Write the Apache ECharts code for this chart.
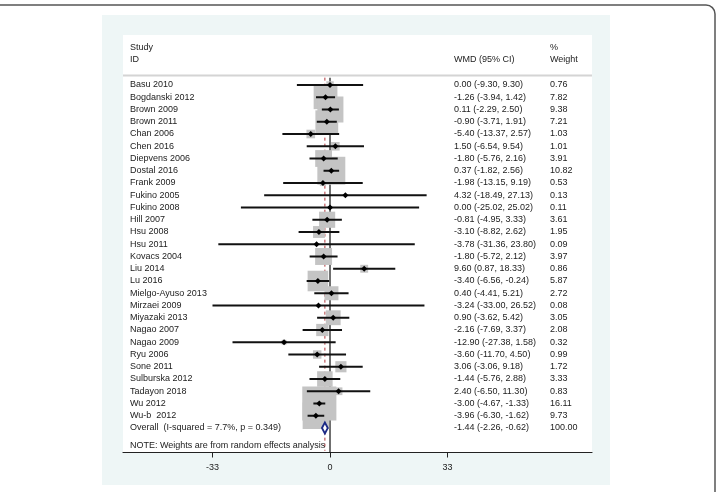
<!DOCTYPE html>
<html>
<head>
<meta charset="utf-8">
<script src="https://cdn.jsdelivr.net/npm/echarts@6/dist/echarts.min.js"></script>
<style>
  html, body { margin: 0; padding: 0; background: #fff; }
  #main { width: 717px; height: 492px; }
</style>
</head>
<body>
<div id="main"></div>
<script>
// study data (WMD with 95% CI, % weight)
var studies = ['Basu 2010', 'Bogdanski 2012', 'Brown 2009', 'Brown 2011', 'Chan 2006', 'Chen 2016',
  'Diepvens 2006', 'Dostal 2016', 'Frank 2009', 'Fukino 2005', 'Fukino 2008', 'Hill 2007', 'Hsu 2008',
  'Hsu 2011', 'Kovacs 2004', 'Liu 2014', 'Lu 2016', 'Mielgo-Ayuso 2013', 'Mirzaei 2009', 'Miyazaki 2013',
  'Nagao 2007', 'Nagao 2009', 'Ryu 2006', 'Sone 2011', 'Sulburska 2012', 'Tadayon 2018', 'Wu 2012', 'Wu-b  2012'];
var wmd = [0.00, -1.26, 0.11, -0.90, -5.40, 1.50, -1.80, 0.37, -1.98, 4.32, 0.00, -0.81, -3.10, -3.78,
  -1.80, 9.60, -3.40, 0.40, -3.24, 0.90, -2.16, -12.90, -3.60, 3.06, -1.44, 2.40, -3.00, -3.96];
var lower = [-9.30, -3.94, -2.29, -3.71, -13.37, -6.54, -5.76, -1.82, -13.15, -18.49, -25.02, -4.95, -8.82, -31.36,
  -5.72, 0.87, -6.56, -4.41, -33.00, -3.62, -7.69, -27.38, -11.70, -3.06, -5.76, -6.50, -4.67, -6.30];
var upper = [9.30, 1.42, 2.50, 1.91, 2.57, 9.54, 2.16, 2.56, 9.19, 27.13, 25.02, 3.33, 2.62, 23.80,
  2.12, 18.33, -0.24, 5.21, 26.52, 5.42, 3.37, 1.58, 4.50, 9.18, 2.88, 11.30, -1.33, -1.62];
var weights = [0.76, 7.82, 9.38, 7.21, 1.03, 1.01, 3.91, 10.82, 0.53, 0.13, 0.11, 3.61, 1.95, 0.09,
  3.97, 0.86, 5.87, 2.72, 0.08, 3.05, 2.08, 0.32, 0.99, 1.72, 3.33, 0.83, 16.11, 9.73];
var overallLabel = 'Overall  (I-squared = 7.7%, p = 0.349)';
var overall = [-1.44, -2.26, -0.62];   // estimate, lower, upper
var overallWeight = 100.00;
var xTicks = [-33, 0, 33];
var note = 'NOTE: Weights are from random effects analysis';

var FONT = "'Liberation Sans', Arial, sans-serif";
var TXT = '#222';
var nRows = studies.length;           // overall row index
var colName = 130, colCI = 454, colW = 550;

var rows = studies.map(function (s, i) { return [i, wmd[i], lower[i], upper[i], weights[i]]; });

var chart = echarts.init(document.getElementById('main'));

function fmt(v) { return v.toFixed(2); }

var option = {
  animation: false,
  backgroundColor: '#fff',
  grid: { left: 123, right: 125, top: 77.65, bottom: 39.5 },
  xAxis: {
    type: 'value', min: -58.13, max: 73.57, position: 'bottom',
    axisLine: { show: true, onZero: false, lineStyle: { color: '#222', width: 1.2 } },
    axisTick: { show: true, length: 5, customValues: xTicks, lineStyle: { color: '#222' } },
    axisLabel: { customValues: xTicks, color: TXT, fontSize: 9, fontFamily: FONT, margin: 11 },
    splitLine: { show: false }
  },
  yAxis: { type: 'value', inverse: true, min: -0.6, max: 30, show: false },
  graphic: [
    { type: 'rect', shape: { x: -10, y: 5, width: 725, height: 600, r: 9 },
      style: { fill: 'none', stroke: '#555', lineWidth: 1.5 }, z: -10 },
    { type: 'rect', shape: { x: 102, y: 15, width: 508, height: 470 }, style: { fill: '#eef6f6' }, z: -9 },
    { type: 'rect', shape: { x: 123, y: 35, width: 469, height: 417 }, style: { fill: '#fff' }, z: -8 },
    { type: 'line', shape: { x1: 123, y1: 75.5, x2: 592, y2: 75.5 }, style: { stroke: '#d4d4d4', lineWidth: 2 }, z: -7 },
    { type: 'text', x: colName, y: 48, style: { text: 'Study', fill: TXT, font: '9px ' + FONT, verticalAlign: 'middle' } },
    { type: 'text', x: colName, y: 60, style: { text: 'ID', fill: TXT, font: '9px ' + FONT, verticalAlign: 'middle' } },
    { type: 'text', x: colCI, y: 60, style: { text: 'WMD (95% CI)', fill: TXT, font: '9px ' + FONT, verticalAlign: 'middle' } },
    { type: 'text', x: colW, y: 48, style: { text: '%', fill: TXT, font: '9px ' + FONT, verticalAlign: 'middle' } },
    { type: 'text', x: colW, y: 60, style: { text: 'Weight', fill: TXT, font: '9px ' + FONT, verticalAlign: 'middle' } }
  ],
  series: [
    {
      // reference lines: no effect and overall estimate
      type: 'custom', name: 'ref', z: 1, clip: false,
      data: [[0, overall[0]]],
      renderItem: function (params, api) {
        var t0 = api.coord([0, -0.6]), b0 = api.coord([0, 30]);
        var t1 = api.coord([api.value(1), -0.6]), b1 = api.coord([api.value(1), 29.85]);
        return { type: 'group', children: [
          { type: 'line', shape: { x1: t0[0], y1: t0[1], x2: b0[0], y2: b0[1] }, style: { stroke: '#111', lineWidth: 1.2 } },
          { type: 'line', shape: { x1: t1[0], y1: t1[1], x2: b1[0], y2: b1[1] }, style: { stroke: '#b0353a', lineWidth: 1, lineDash: [3, 3] } }
        ] };
      }
    },
    {
      // weight boxes
      type: 'custom', name: 'boxes', z: 2, clip: false,
      data: rows, encode: { x: 1, y: 0 },
      renderItem: function (params, api) {
        var p = api.coord([api.value(1), api.value(0)]);
        var s = 8.5 * Math.sqrt(api.value(4));
        return { type: 'rect', shape: { x: p[0] - s / 2, y: p[1] - s / 2, width: s, height: s }, style: { fill: '#c4c4c4' } };
      }
    },
    {
      // confidence intervals and point estimates
      type: 'custom', name: 'ci', z: 3, clip: false,
      data: rows, encode: { x: [1, 2, 3], y: 0 },
      renderItem: function (params, api) {
        var r = api.value(0);
        var pl = api.coord([api.value(2), r]), ph = api.coord([api.value(3), r]), pe = api.coord([api.value(1), r]);
        return { type: 'group', children: [
          { type: 'line', shape: { x1: pl[0], y1: pl[1], x2: ph[0], y2: ph[1] }, style: { stroke: '#111', lineWidth: 2 } },
          { type: 'polygon', shape: { points: [[pe[0] - 3, pe[1]], [pe[0], pe[1] - 3], [pe[0] + 3, pe[1]], [pe[0], pe[1] + 3]] }, style: { fill: '#000' } }
        ] };
      }
    },
    {
      // pooled estimate diamond
      type: 'custom', name: 'overall', z: 4, clip: false,
      data: [[nRows, overall[0], overall[1], overall[2]]], encode: { x: [1, 2, 3], y: 0 },
      renderItem: function (params, api) {
        var r = api.value(0);
        var pe = api.coord([api.value(1), r]), pl = api.coord([api.value(2), r]), ph = api.coord([api.value(3), r]);
        return { type: 'polygon', shape: { points: [[pl[0], pe[1]], [pe[0], pe[1] - 5.5], [ph[0], pe[1]], [pe[0], pe[1] + 5.5]] },
          style: { fill: '#fff', stroke: '#1c2a86', lineWidth: 1.8 } };
      }
    },
    {
      // text columns
      type: 'custom', name: 'text', z: 5, clip: false,
      data: rows.concat([[nRows, overall[0], overall[1], overall[2], overallWeight]]), encode: { x: 1, y: 0 },
      renderItem: function (params, api) {
        var i = params.dataIndex;
        var y = api.coord([0, api.value(0)])[1];
        var name, ci, w;
        if (i < nRows) {
          name = studies[i];
          ci = fmt(wmd[i]) + ' (' + fmt(lower[i]) + ', ' + fmt(upper[i]) + ')';
          w = fmt(weights[i]);
        } else {
          name = overallLabel;
          ci = fmt(overall[0]) + ' (' + fmt(overall[1]) + ', ' + fmt(overall[2]) + ')';
          w = fmt(overallWeight);
        }
        var st = function (t) { return { text: t, fill: TXT, font: '9px ' + FONT, verticalAlign: 'middle' }; };
        var kids = [
          { type: 'text', x: colName, y: y, style: st(name) },
          { type: 'text', x: colCI, y: y, style: st(ci) },
          { type: 'text', x: colW, y: y, style: st(w) }
        ];
        if (i === nRows) {
          kids.push({ type: 'text', x: colName, y: api.coord([0, nRows + 1.45])[1], style: st(note) });
        }
        return { type: 'group', children: kids };
      }
    }
  ]
};

chart.setOption(option);
</script>
</body>
</html>
